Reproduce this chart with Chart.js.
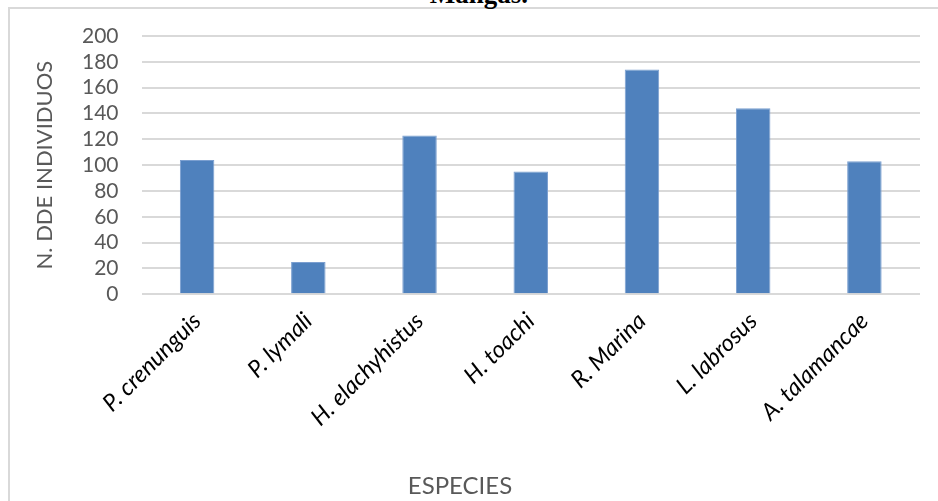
<!DOCTYPE html>
<html>
<head>
<meta charset="utf-8">
<script src="https://cdn.jsdelivr.net/npm/chart.js@4.4.1/dist/chart.umd.min.js"></script>
<style>
  html, body { margin: 0; padding: 0; background: #ffffff; overflow: hidden; }
  #wrap { position: relative; width: 938px; height: 501px; }
  #frame {
    position: absolute; left: 8px; top: 7px; width: 1000px; height: 600px;
    border-left: 2px solid #d9d9d9; border-top: 2px solid #d9d9d9;
  }
  #caption {
    position: absolute; left: 0; width: 938px; top: -21px; text-align: center;
    font: bold 27px "Liberation Serif", "Times New Roman", serif; color: #000;
    padding-left: 20px; box-sizing: border-box;
  }
  canvas { position: absolute; left: 0; top: 0; }
</style>
</head>
<body>
<div id="wrap">
  <div id="frame"></div>
  <div id="caption">Mangas.</div>
  <canvas id="chart" width="938" height="501"></canvas>
</div>
<script>
// Species sampled and number of individuals counted for each
const species = ['P. crenunguis', 'P. lymali', 'H. elachyhistus', 'H. toachi', 'R. Marina', 'L. labrosus', 'A. talamancae'];
const individuals = [104, 25, 123, 95, 174, 144, 103];
const yTicks = [0, 20, 40, 60, 80, 100, 120, 140, 160, 180, 200];

const grey = '#595959';

new Chart(document.getElementById('chart'), {
  type: 'bar',
  data: {
    labels: species,
    datasets: [{
      data: individuals,
      backgroundColor: '#4f81bd',
      borderColor: '#7b9fd0',
      borderWidth: 1,
      categoryPercentage: 1,
      barPercentage: 0.31
    }]
  },
  options: {
    responsive: false,
    animation: false,
    layout: { padding: { top: 36, right: 18, left: 0, bottom: 0 } },
    plugins: {
      legend: { display: false },
      tooltip: { enabled: false },
      title: {
        display: true,
        position: 'bottom',
        text: 'ESPECIES',
        color: grey,
        font: { family: 'Lato', size: 24, weight: 'normal' },
        padding: { top: 0, bottom: 0 }
      }
    },
    scales: {
      x: {
        grid: { display: false, drawTicks: false },
        border: { display: false },
        ticks: {
          color: '#000000',
          font: { family: 'Lato', size: 23.5, style: 'italic' },
          minRotation: 45,
          maxRotation: 45,
          padding: 13,
          autoSkip: false
        },
        afterFit(scale) { scale.height = 178; }
      },
      y: {
        min: 0,
        max: 200,
        afterBuildTicks(scale) { scale.ticks = yTicks.map(v => ({ value: v })); },
        grid: { color: '#d9d9d9', lineWidth: 2, drawTicks: false },
        border: { display: false },
        ticks: {
          color: grey,
          font: { family: 'Lato', size: 21 },
          padding: 23,
          autoSkip: false
        },
        title: {
          display: true,
          text: 'N. DDE INDIVIDUOS',
          color: grey,
          font: { family: 'Lato', size: 22, weight: 'normal' },
          padding: { top: 32, bottom: 0 }
        },
        afterFit(scale) { scale.width = 141.5; }
      }
    }
  }
});
</script>
</body>
</html>
